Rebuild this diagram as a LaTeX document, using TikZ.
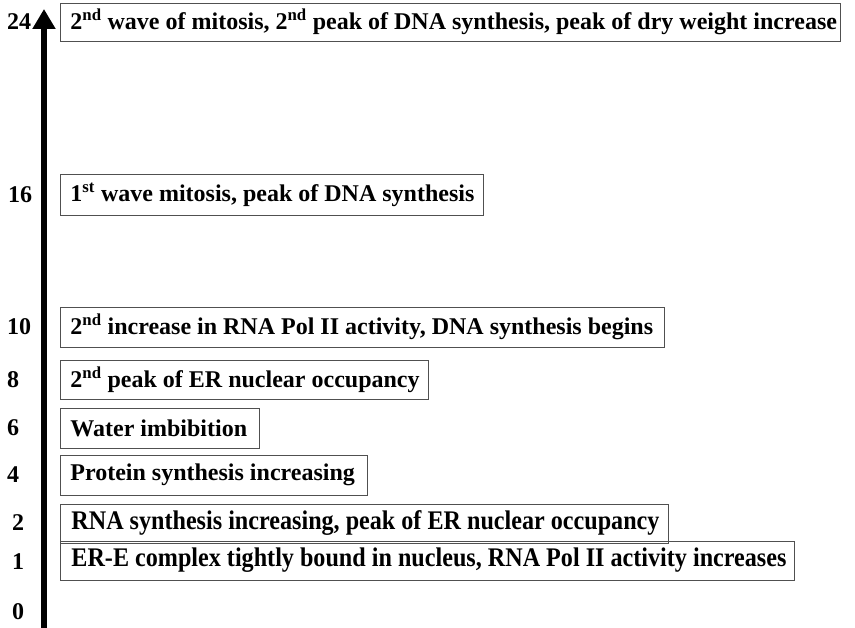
\documentclass[tikz,border=0pt]{standalone}
\usepackage{fontspec}
\setmainfont{Liberation Serif}
\usetikzlibrary{arrows.meta}
\definecolor{boxgray}{HTML}{505050}
\tikzset{
  evbox/.style={draw=boxgray, line width=0.9pt, anchor=west, inner xsep=0pt, inner ysep=0pt, font=\fontsize{24}{26}\selectfont\bfseries},
  numlab/.style={anchor=west, inner sep=0pt, font=\fontsize{24}{26}\selectfont\bfseries},
}
\newcommand{\evtext}[2]{\makebox[#1][l]{\hspace{10pt}#2}}
\newcommand{\sqtext}[3]{\makebox[#1][l]{\hspace{11pt}\resizebox{#2}{1.12\height}{#3}}}
\begin{document}
\begin{tikzpicture}[x=1pt,y=-1pt]
\useasboundingbox (0,0) rectangle (855,628);
% time axis
\coordinate (tail) at (44,628);
\coordinate (tip) at (44,9);
\draw[line width=6pt, -{Triangle[width=22pt,length=20pt]}] (tail) -- (tip);
% numbers
\node[numlab] (n24) at (7,22) {24};
\node[numlab] (n16) at (8,195) {16};
\node[numlab] (n10) at (7,327) {10};
\node[numlab] (n8) at (7,380) {8};
\node[numlab] (n6) at (7,428) {6};
\node[numlab] (n4) at (7,475) {4};
\node[numlab] (n2) at (12,523) {2};
\node[numlab] (n1) at (12,562) {1};
\node[numlab] (n0) at (12,612) {0};
% event boxes
\node[evbox, minimum height=38pt] (b24) at (60,22) {\evtext{780pt}{2\textsuperscript{nd} wave of mitosis, 2\textsuperscript{nd} peak of DNA synthesis, peak of dry weight increase}};
\node[evbox, minimum height=41pt] (b16) at (60,194.5) {\evtext{423pt}{1\textsuperscript{st} wave mitosis, peak of DNA synthesis}};
\node[evbox, minimum height=40pt] (b10) at (60,327) {\evtext{604pt}{2\textsuperscript{nd} increase in RNA Pol II activity, DNA synthesis begins}};
\node[evbox, minimum height=39pt] (b8) at (60,379.5) {\evtext{368pt}{2\textsuperscript{nd} peak of ER nuclear occupancy}};
\node[evbox, minimum height=40pt] (b6) at (60,428) {\evtext{199pt}{Water imbibition}};
\node[evbox, minimum height=40pt] (b4) at (60,475) {\evtext{307pt}{Protein synthesis increasing}};
\node[evbox, minimum height=39pt] (b2) at (60,523.5) {\sqtext{608pt}{588pt}{RNA synthesis increasing, peak of ER nuclear occupancy}};
\node[evbox, minimum height=39pt] (b1) at (60,560.5) {\sqtext{734pt}{715pt}{ER-E complex tightly bound in nucleus, RNA Pol II activity increases}};
\end{tikzpicture}
\end{document}
